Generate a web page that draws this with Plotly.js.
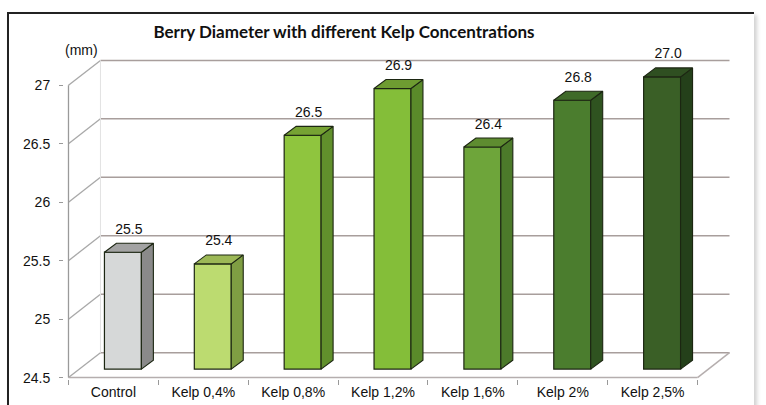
<!DOCTYPE html>
<html>
<head>
<meta charset="utf-8">
<script src="https://cdn.plot.ly/plotly-3.0.1.min.js"></script>
<style>
  html, body { margin: 0; padding: 0; background: #ffffff; }
  #wrap { position: relative; width: 766px; height: 405px; overflow: hidden; }
  #frame { position: absolute; left: 7px; top: 12px; width: 745px; height: 420px;
           border-left: 2px solid #222; border-top: 2px solid #222;
           box-shadow: 3px 3px 4px rgba(0,0,0,0.18); background: #fff; }
  #chart { position: absolute; left: 0; top: 0; width: 766px; height: 405px; }
</style>
</head>
<body>
<div id="wrap">
  <div id="frame"></div>
  <div id="chart"></div>
</div>
<script>
// ---- data ----
const categories = ['Control', 'Kelp 0,4%', 'Kelp 0,8%', 'Kelp 1,2%', 'Kelp 1,6%', 'Kelp 2%', 'Kelp 2,5%'];
const diameters  = [25.5, 25.4, 26.5, 26.9, 26.4, 26.8, 27.0];
const valueLabels = ['25.5', '25.4', '26.5', '26.9', '26.4', '26.8', '27.0'];
const yTickVals  = [24.5, 25, 25.5, 26, 26.5, 27];
const yTickText  = ['24.5', '25', '25.5', '26', '26.5', '27'];
const chartTitle = 'Berry Diameter with different Kelp Concentrations';
const unitLabel  = '(mm)';

// ---- styles ----
const frontColors = ['#d6d8d8', '#bcdb70', '#8fc53e', '#84be39', '#6ea53a', '#4b7d2e', '#3a5f26'];
const sideColors  = ['#8a8a8a', '#7f9e43', '#61902c', '#5a8a2a', '#4c7a2a', '#2f5320', '#24401a'];
const topColors   = ['#a3a3a3', '#9cb856', '#76a233', '#6e9c31', '#5e8c30', '#3f6a29', '#2f4f21'];
const edgeColor = '#1c2612';
const textFont = 'Liberation Sans, Arial, sans-serif';

// geometry (pixel-scale helpers)
const W = 766, H = 405;
const PXX = 90, PXY = 117.2;
const wallDX = 32 / PXX, wallDY = 25 / PXY;
const barFX = 9.5 / PXX, barFY = 8.5 / PXY;
const barDX = 12 / PXX, barDY = 9 / PXY;
const barW = 37 / PXX;
const labelGap = 6 / PXY;
const yMin = 24.5, yMax = 27;
const padX = 0.05, padY = 0.012;
const xRange = [-0.5 - padX, categories.length - 0.5 + wallDX + padX];
const yRange = [yMin - padY, yMax + wallDY + padY];
const leftPx = 68 - padX * PXX;
const rightPx = leftPx + (xRange[1] - xRange[0]) * PXX;
const bottomPx = 378 + padY * PXY;
const topPx = bottomPx - (yRange[1] - yRange[0]) * PXY;
const margin = { l: leftPx, r: W - rightPx, t: topPx, b: H - bottomPx, pad: 0 };

const xs = categories.map((c, i) => i);
const xFrontLeft = -0.5, xFrontRight = categories.length - 0.5;

// ---- wall / grid shapes from tick values ----
const shapes = [];
const wallLine = { color: '#a8a8a8', width: 1.3 };
const gridLine = { color: '#a89e9c', width: 1.5 };
yTickVals.forEach(v => {
  shapes.push({ type: 'line', xref: 'x', yref: 'y', layer: 'below',
    x0: xFrontLeft, y0: v, x1: xFrontLeft + wallDX, y1: v + wallDY, line: wallLine });
  shapes.push({ type: 'line', xref: 'x', yref: 'y', layer: 'below',
    x0: xFrontLeft + wallDX, y0: v + wallDY, x1: xFrontRight + wallDX, y1: v + wallDY, line: gridLine });
});
shapes.push({ type: 'line', xref: 'x', yref: 'y', layer: 'below',
  x0: xFrontLeft, y0: yMin, x1: xFrontLeft, y1: yMax, line: { color: '#9a9a9a', width: 1.3 } });
shapes.push({ type: 'line', xref: 'x', yref: 'y', layer: 'below',
  x0: xFrontLeft + wallDX, y0: yMin + wallDY, x1: xFrontLeft + wallDX, y1: yMax + wallDY, line: { color: '#e2e2e2', width: 1 } });
shapes.push({ type: 'line', xref: 'x', yref: 'y', layer: 'below',
  x0: xFrontLeft, y0: yMin, x1: xFrontRight, y1: yMin, line: { color: '#b5aeae', width: 1.5 } });
shapes.push({ type: 'line', xref: 'x', yref: 'y', layer: 'below',
  x0: xFrontRight, y0: yMin, x1: xFrontRight + wallDX, y1: yMin + wallDY, line: { color: '#b5aeae', width: 1.5 } });

// ---- traces ----
const traces = [];
const base0 = yMin + barFY;
traces.push({
  type: 'bar',
  x: xs.map(i => i + barFX),
  y: diameters.map(v => v - yMin),
  base: diameters.map(() => base0),
  width: barW,
  marker: { color: frontColors, line: { color: edgeColor, width: 1.2 } },
  hoverinfo: 'skip', showlegend: false
});
diameters.forEach((v, i) => {
  const xl = i + barFX - barW / 2, xr = i + barFX + barW / 2;
  const t = v + barFY;
  traces.push({
    type: 'scatter', mode: 'lines', fill: 'toself',
    x: [xr, xr + barDX, xr + barDX, xr, xr],
    y: [base0, base0 + barDY, t + barDY, t, base0],
    fillcolor: sideColors[i], line: { color: edgeColor, width: 1.1 },
    hoverinfo: 'skip', showlegend: false
  });
  traces.push({
    type: 'scatter', mode: 'lines', fill: 'toself',
    x: [xl, xl + barDX, xr + barDX, xr, xl],
    y: [t, t + barDY, t + barDY, t, t],
    fillcolor: topColors[i], line: { color: edgeColor, width: 1.1 },
    hoverinfo: 'skip', showlegend: false
  });
});
traces.push({
  type: 'scatter', mode: 'text',
  x: xs.map(i => i + barFX + barDX / 2),
  y: diameters.map(v => v + barFY + barDY + labelGap),
  text: valueLabels, textposition: 'top center',
  textfont: { family: textFont, size: 14, color: '#111' },
  cliponaxis: false, hoverinfo: 'skip', showlegend: false
});

const layout = {
  width: W, height: H,
  margin: margin,
  paper_bgcolor: 'rgba(0,0,0,0)',
  plot_bgcolor: 'rgba(0,0,0,0)',
  showlegend: false,
  barmode: 'overlay',
  title: {
    text: '<b>' + chartTitle + '</b>',
    font: { family: 'Lato, Carlito, sans-serif', size: 17, color: '#111' },
    x: 344 / W, xref: 'container', xanchor: 'center',
    y: 1 - 32 / H, yref: 'container', yanchor: 'middle'
  },
  xaxis: {
    range: xRange, fixedrange: true,
    tickvals: xs, ticktext: categories, ticks: '',
    showgrid: false, zeroline: false, showline: false,
    tickfont: { family: textFont, size: 14, color: '#111' },
    ticklabelstandoff: 3,
    minor: { tick0: -0.5, dtick: 1, ticks: 'outside', ticklen: 5, tickcolor: '#999', tickwidth: 1, showgrid: false }
  },
  yaxis: {
    range: yRange, fixedrange: true,
    tickvals: yTickVals, ticktext: yTickText,
    ticks: 'outside', ticklen: 4, tickcolor: '#999', tickwidth: 1,
    ticklabelstandoff: 6,
    showgrid: false, zeroline: false, showline: false,
    tickfont: { family: textFont, size: 14, color: '#111' }
  },
  shapes: shapes,
  annotations: [{
    text: unitLabel, showarrow: false,
    xref: 'paper', yref: 'paper',
    x: (81 - leftPx) / (rightPx - leftPx),
    y: (bottomPx - 50) / (bottomPx - topPx),
    xanchor: 'center', yanchor: 'middle',
    font: { family: textFont, size: 14, color: '#111' }
  }]
};

Plotly.newPlot('chart', traces, layout, { displayModeBar: false, staticPlot: true });
</script>
</body>
</html>
